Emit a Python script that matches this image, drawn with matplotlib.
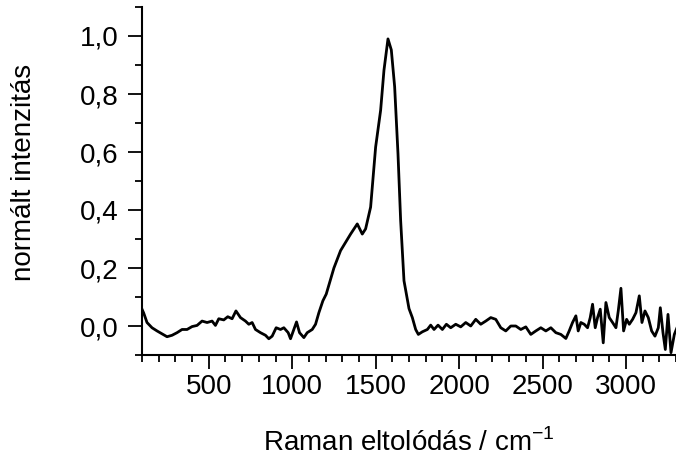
import numpy as np
import matplotlib
matplotlib.use("Agg")
import matplotlib.pyplot as plt
from matplotlib.ticker import MultipleLocator, FuncFormatter

plt.rcParams["font.family"] = ["Liberation Sans", "DejaVu Sans"]

# Raman shift (cm^-1) and normalised intensity
shift = [100, 110, 130, 160, 190, 220, 250, 280, 310, 340, 370, 400, 430,
         460, 490, 520, 540, 560, 590, 614, 640, 663, 690, 720, 740, 760,
         780, 810, 840, 860, 880, 904, 930, 950, 976, 990, 1010, 1026, 1044,
         1070, 1090, 1120, 1140, 1160, 1184, 1204, 1250, 1290, 1350, 1390,
         1420, 1440, 1470, 1500, 1530, 1550, 1574, 1594, 1614, 1634, 1650,
         1670, 1700, 1720, 1740, 1756, 1780, 1810, 1830, 1850, 1874, 1900,
         1924, 1950, 1980, 2010, 2040, 2070, 2100, 2130, 2160, 2190, 2220,
         2250, 2280, 2310, 2340, 2370, 2400, 2430, 2460, 2490, 2520, 2550,
         2580, 2610, 2640, 2660, 2680, 2700, 2714, 2730, 2750, 2770, 2786,
         2800, 2816, 2830, 2846, 2864, 2880, 2900, 2920, 2940, 2954, 2970,
         2986, 3004, 3020, 3040, 3060, 3080, 3096, 3114, 3134, 3154, 3174,
         3194, 3206, 3222, 3236, 3252, 3270, 3290, 3306]
intensity = [0.058, 0.045, 0.012, -0.006, -0.017, -0.027, -0.037, -0.032,
             -0.023, -0.012, -0.012, -0.002, 0.002, 0.017, 0.012, 0.017,
             0.002, 0.025, 0.021, 0.032, 0.025, 0.052, 0.029, 0.017, 0.006,
             0.012, -0.012, -0.023, -0.032, -0.044, -0.035, -0.006, -0.012,
             -0.006, -0.023, -0.044, -0.012, 0.014, -0.023, -0.040, -0.023,
             -0.012, 0.006, 0.046, 0.087, 0.110, 0.200, 0.260, 0.317, 0.352,
             0.317, 0.335, 0.410, 0.617, 0.744, 0.882, 0.990, 0.952, 0.825,
             0.594, 0.363, 0.156, 0.060, 0.029, -0.012, -0.029, -0.020,
             -0.012, 0.003, -0.012, 0.003, -0.012, 0.006, -0.006, 0.006,
             -0.003, 0.012, 0.000, 0.023, 0.006, 0.017, 0.029, 0.023, -0.006,
             -0.017, 0.000, 0.000, -0.012, -0.003, -0.029, -0.017, -0.006,
             -0.017, -0.006, -0.023, -0.029, -0.043, -0.017, 0.012, 0.035,
             -0.017, 0.012, 0.006, -0.006, 0.029, 0.075, -0.006, 0.029, 0.058,
             -0.058, 0.081, 0.029, 0.012, -0.006, 0.052, 0.130, -0.017, 0.023,
             0.006, 0.023, 0.046, 0.104, 0.012, 0.052, 0.029, -0.017, -0.035,
             -0.006, 0.063, -0.023, -0.081, 0.040, -0.092, -0.029, -0.006]

fig = plt.figure(figsize=(6.76, 4.57), dpi=100)
ax = fig.add_axes([142 / 676, 1 - 355 / 457, 534 / 676, 348 / 457])

ax.plot(shift, intensity, color="black", lw=2, solid_joinstyle="round")

ax.set_xlim(100, 3300)
ax.set_ylim(-0.1, 1.1)
ax.spines[["top", "right"]].set_visible(False)
for s in ("left", "bottom"):
    ax.spines[s].set_linewidth(1.5)

ax.xaxis.set_major_locator(MultipleLocator(500))
ax.xaxis.set_minor_locator(MultipleLocator(100))
ax.yaxis.set_major_locator(MultipleLocator(0.2))
ax.yaxis.set_minor_locator(MultipleLocator(0.1))
ax.yaxis.set_major_formatter(FuncFormatter(lambda v, p: f"{v:.1f}".replace(".", ",")))
ax.tick_params(which="major", length=10, width=1.3, labelsize=20)
ax.tick_params(which="minor", length=5, width=1.3)
ax.tick_params(axis="y", which="major", pad=7)
ax.tick_params(axis="x", which="major", pad=4)

ax.set_xlabel("Raman eltolódás / cm$^{\\mathregular{-1}}$", fontsize=20, labelpad=20)
ax.set_ylabel("normált intenzitás", fontsize=20, labelpad=31)
ax.yaxis.label.set_y(0.526)

fig.savefig("out.png", dpi=100)
